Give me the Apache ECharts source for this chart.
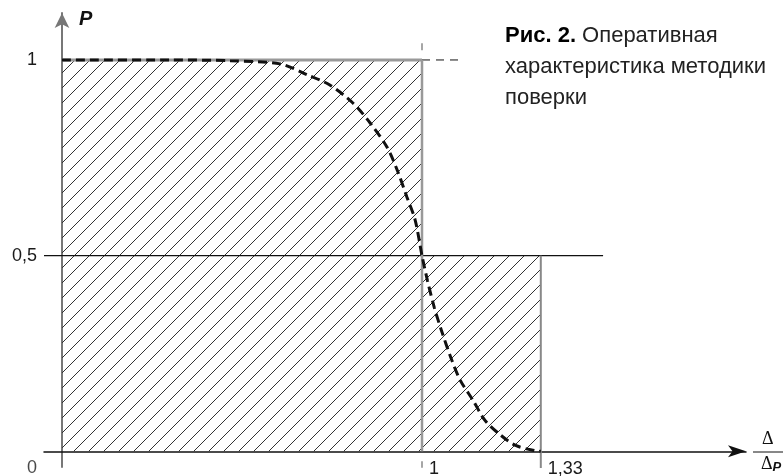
<!DOCTYPE html>
<html>
<head>
<meta charset="utf-8">
<script src="https://cdn.jsdelivr.net/npm/echarts@6/dist/echarts.min.js"></script>
<style>
html, body { margin: 0; padding: 0; background: #fff; }
#chart { width: 783px; height: 476px; }
</style>
</head>
<body>
<div id="chart"></div>
<script>
// оперативная характеристика
var curveX = [0, 0.3, 0.467, 0.606, 0.681, 0.744, 0.808, 0.856, 0.903, 0.931, 0.958, 0.981, 1,
              1.015, 1.034, 1.054, 1.08, 1.106, 1.142, 1.175, 1.219, 1.26, 1.312, 1.33];
var curveY = [1, 1, 0.998, 0.99, 0.962, 0.936, 0.89, 0.839, 0.777, 0.719, 0.65, 0.591, 0.5,
              0.437, 0.368, 0.309, 0.24, 0.182, 0.13, 0.079, 0.041, 0.015, 0.002, 0];

// заштрихованные области: [x0, x1] x [0, y1]
var hatchX0 = [0, 1];
var hatchX1 = [1, 1.33];
var hatchY1 = [1, 0.5];

// подписи осей
var yTicks = [0.5, 1];
var yTickLabels = ['0,5', '1'];
var xTicks = [1, 1.33];
var xTickLabels = ['1', '1,33'];

// вспомогательные линии
var halfLine = [[-0.05, 0.5], [1.503, 0.5]];
var topSolid = [[0, 1], [1, 1]];
var topDashed = [[1, 1], [1.106, 1]];
var oneSolid = [[1, 0], [1, 1]];
var oneDashed = [[1, -0.043], [1, 1.064]];
var edgeLine = [[1.33, -0.043], [1.33, 0.5]];

var chart = echarts.init(document.getElementById('chart'));

function hatchPattern() {
    var c = document.createElement('canvas');
    c.width = 15;
    c.height = 15;
    var g = c.getContext('2d');
    g.strokeStyle = '#333';
    g.lineWidth = 1;
    g.beginPath();
    g.moveTo(-2, 17); g.lineTo(17, -2);
    g.moveTo(-2, 2); g.lineTo(2, -2);
    g.moveTo(13, 17); g.lineTo(17, 13);
    g.stroke();
    return c;
}
var pattern = hatchPattern();

var hatchData = hatchX0.map(function (x0, i) {
    return [x0, hatchX1[i], 0, hatchY1[i]];
});
var curveData = curveX.map(function (x, i) { return [x, curveY[i]]; });

function guide(data, color, width, type) {
    return {
        type: 'line', data: data, showSymbol: false, silent: true, z: 3,
        lineStyle: { color: color, width: width, type: type }
    };
}

var option = {
    animation: false,
    grid: { left: 44, right: 37, top: 13, bottom: 9, containLabel: false, outerBoundsMode: 'none' },
    xAxis: {
        type: 'value', min: -0.05, max: 1.9,
        splitLine: { show: false },
        axisTick: { show: false },
        axisLine: { show: true, onZero: true, symbol: ['none', 'arrow'], symbolSize: [9, 18],
            lineStyle: { color: '#111', width: 1.5 } },
        axisLabel: {
            customValues: xTicks, align: 'left', verticalAlign: 'middle', margin: 2, padding: [0, 0, 0, 7],
            fontFamily: 'Liberation Sans', fontSize: 18, color: '#1a1a1a',
            formatter: function (v) { return xTickLabels[xTicks.indexOf(v)]; }
        }
    },
    yAxis: {
        type: 'value', min: -0.04, max: 1.12,
        splitLine: { show: false },
        axisTick: { show: false },
        axisLine: { show: true, onZero: true, symbol: ['none', 'arrow'], symbolSize: [11, 15],
            lineStyle: { color: '#777', width: 2 } },
        axisLabel: {
            customValues: yTicks, margin: 7,
            fontFamily: 'Liberation Sans', fontSize: 18, color: '#1a1a1a',
            formatter: function (v) { return yTickLabels[yTicks.indexOf(v)]; }
        }
    },
    series: [
        {
            type: 'custom', z: 1, silent: true,
            data: hatchData,
            renderItem: function (params, api) {
                var p0 = api.coord([api.value(0), api.value(3)]);
                var p1 = api.coord([api.value(1), api.value(2)]);
                return {
                    type: 'rect',
                    shape: { x: p0[0], y: p0[1], width: p1[0] - p0[0], height: p1[1] - p0[1] },
                    style: { fill: { image: pattern, repeat: 'repeat' } }
                };
            }
        },
        guide(oneDashed, '#888', 1.5, [7, 12]),
        guide(halfLine, '#111', 1.2, 'solid'),
        guide(topSolid, '#999', 3, 'solid'),
        guide(topDashed, '#111', 1, [8, 6]),
        guide(oneSolid, '#999', 2.5, 'solid'),
        guide(edgeLine, '#888', 2, 'solid'),
        {
            type: 'line', data: curveData, smooth: 0.3, showSymbol: false, silent: true, z: 5,
            lineStyle: { color: '#111', width: 3, type: [9, 5] }
        },
        {
            // подпись начала координат
            type: 'scatter', data: [[0, 0]], symbolSize: 0, silent: true,
            label: { show: true, formatter: '0', position: 'left', offset: [-20, 17],
                fontFamily: 'Liberation Sans', fontSize: 18, color: '#1a1a1a' }
        }
    ],
    graphic: [
        {
            type: 'text', left: 79, top: 9,
            style: { text: 'P', font: 'italic bold 20px "Liberation Sans"', fill: '#111' }
        },
        {
            type: 'text', left: 505, top: 20,
            style: {
                text: '{b|Рис. 2.} Оперативная\nхарактеристика методики\nповерки',
                font: '22px "Liberation Sans"', fill: '#222', lineHeight: 31,
                rich: { b: { font: 'bold 22px "Liberation Sans"', fill: '#000', lineHeight: 31 } }
            }
        },
        {
            type: 'text', left: 762, top: 430,
            style: { text: 'Δ', font: '18px "Liberation Serif"', fill: '#111' }
        },
        {
            type: 'line', shape: { x1: 753, y1: 452, x2: 783, y2: 452 },
            style: { stroke: '#111', lineWidth: 1 }
        },
        {
            type: 'text', left: 761, top: 455,
            style: {
                text: 'Δ{p|P}', font: '18px "Liberation Serif"', fill: '#111',
                rich: { p: { font: 'italic bold 13px "Liberation Sans"', fill: '#111', padding: [7, 0, 0, 0] } }
            }
        }
    ]
};

chart.setOption(option);
</script>
</body>
</html>
